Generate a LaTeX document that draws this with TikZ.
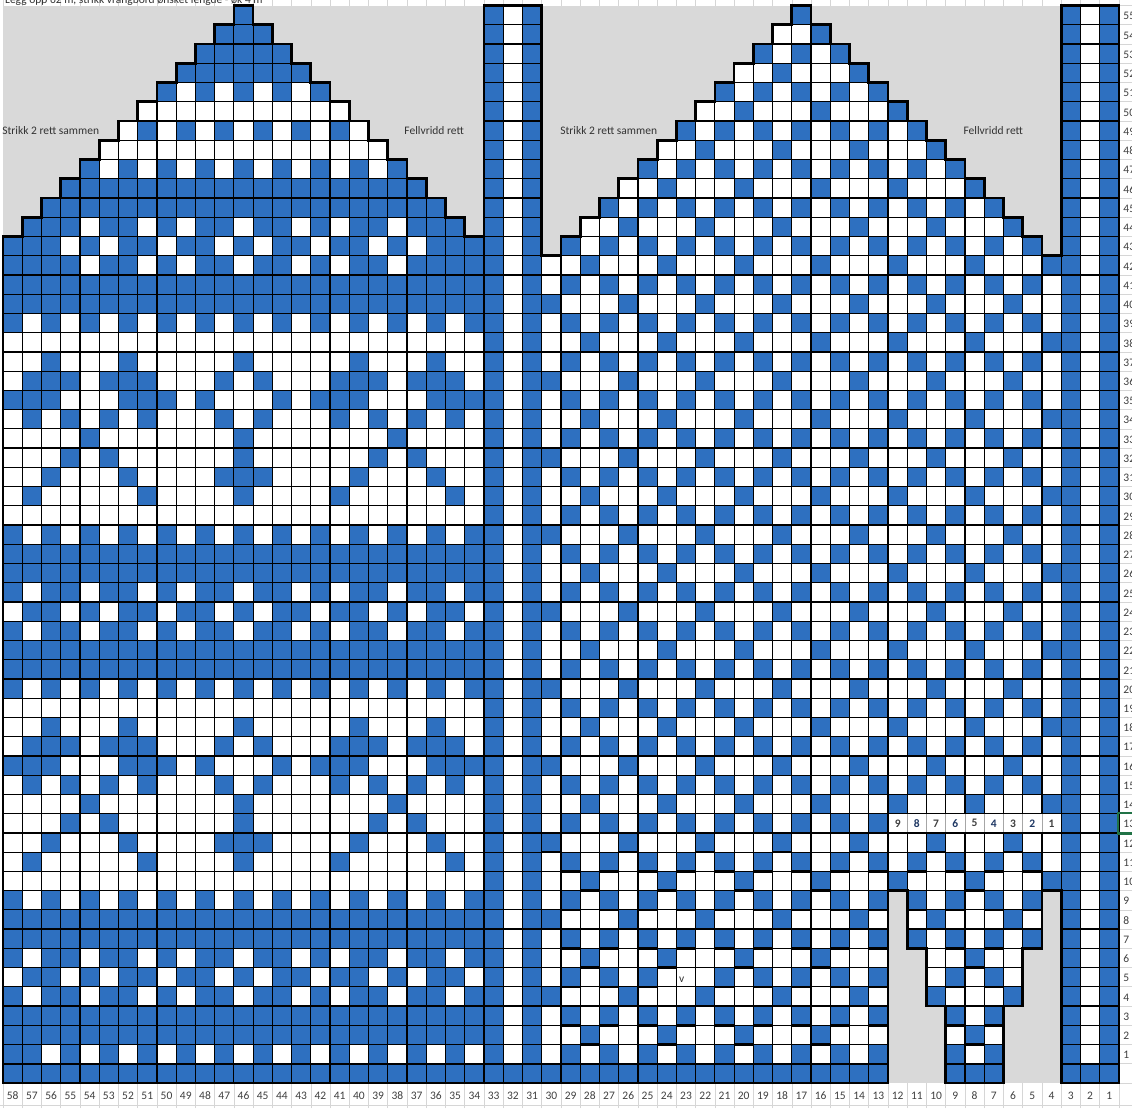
\documentclass[tikz,border=0pt]{standalone}
\usepackage{fontspec}
\setmainfont{Carlito}
\usepackage{xcolor}
\usepackage{tikz}
\usetikzlibrary{calc}
\definecolor{ChartBlue}{RGB}{46,112,192}
\definecolor{ChartGrey}{RGB}{217,217,217}
\definecolor{SheetLine}{RGB}{214,214,214}
\definecolor{ThumbNavy}{RGB}{31,56,100}
\definecolor{SelGreen}{RGB}{33,115,70}

% row patterns of the left part (columns 58 to 34), 1 = blue
\def\pA{1,1,1,1,1,1,1,1,1,1,1,1,1,1,1,1,1,1,1,1,1,1,1,1,1}
\def\pW{0,0,0,0,0,0,0,0,0,0,0,0,0,0,0,0,0,0,0,0,0,0,0,0,0}
\def\pAlt{1,0,1,0,1,0,1,0,1,0,1,0,1,0,1,0,1,0,1,0,1,0,1,0,1}
\def\pOdd{0,1,0,1,0,1,0,1,0,1,0,1,0,1,0,1,0,1,0,1,0,1,0,1,0}
\def\pRone{1,1,0,1,0,1,0,1,0,1,0,1,0,1,0,1,0,1,0,1,0,1,0,1,0}
\def\pDa{1,0,1,1,0,1,1,0,1,0,1,1,0,1,1,0,1,0,1,1,0,1,1,0,1}
\def\pDb{0,1,1,0,1,0,1,1,0,1,1,0,1,0,1,1,0,1,1,0,1,0,1,1,0}
\def\pTa{1,1,1,1,0,1,1,0,1,0,1,1,0,1,1,0,1,0,1,1,0,1,1,1,1}
\def\pTb{1,1,1,0,1,0,1,1,0,1,1,0,1,0,1,1,0,1,1,0,1,0,1,1,1}
\def\pMa{0,1,0,0,0,0,0,1,0,0,0,0,1,0,0,0,0,1,0,0,0,0,0,1,0}
\def\pMb{0,0,1,0,0,0,1,0,0,0,0,1,1,1,0,0,0,0,1,0,0,0,1,0,0}
\def\pMc{0,0,0,1,0,1,0,0,0,0,0,0,1,0,0,0,0,0,0,1,0,1,0,0,0}
\def\pMd{0,0,0,0,1,0,0,0,0,0,0,0,1,0,0,0,0,0,0,0,1,0,0,0,0}
\def\pMe{0,1,0,1,0,1,0,1,0,0,0,1,0,1,0,0,0,1,0,1,0,1,0,1,0}
\def\pMf{1,1,1,0,0,0,1,1,1,0,1,0,0,0,1,0,1,1,1,0,0,0,1,1,1}
\def\pMg{0,1,1,1,0,1,1,1,0,0,0,1,0,1,0,0,0,1,1,1,0,1,1,1,0}
\def\pMh{0,0,1,0,0,0,1,0,0,0,0,0,1,0,0,0,0,0,1,0,0,0,1,0,0}

\begin{document}
\begin{tikzpicture}[x=0.5cm, y=0.5cm]
      \tikzstyle{bcell} = [fill=ChartBlue, draw=black, line width=0.9pt]
      \tikzstyle{wcell} = [fill=white, draw=black, line width=0.9pt]
      \tikzstyle{labcell} = [fill=white, draw=black!35, line width=0.6pt]
      \tikzstyle{heavy} = [draw=black, line width=1.8pt]
      \tikzstyle{edgeline} = [draw=black, line width=2pt, line join=miter]
      \tikzstyle{sheet} = [draw=SheetLine, line width=0.5pt]
      \tikzstyle{note} = [font=\fontsize{8.5}{10}\selectfont, text=black!80, inner sep=0pt]
      \tikzstyle{axislab} = [font=\fontsize{8.5}{10}\selectfont, text=black!75, inner sep=0pt]
      \tikzstyle{thumblab} = [font=\fontsize{8.5}{10}\selectfont\bfseries, inner sep=0pt]

      \useasboundingbox (-0.156,-1.30) rectangle (58.68,56.29);

      % Sheet background
      \fill[white] (-0.156,-1.30) rectangle (58.68,56.29);
      \foreach \i in {0,...,58} \draw[sheet] (\i,-1.30) -- (\i,56.29);
      \foreach \r in {0,...,56} \draw[sheet] (58,\r) -- (58.68,\r);
      \draw[sheet] (-0.156,-1.14) -- (58.68,-1.14);
      \fill[ChartGrey] (0,0) rectangle (58,56);

      % Left part
      \foreach \r/\p in {0/A,1/Rone,2/A,3/A,4/Da,5/Db,6/Da,7/A,8/A,9/Alt,10/W,
          11/Ma,12/Mb,13/Mc,14/Md,15/Me,16/Mf,17/Mg,18/Mh,19/W,20/Alt,21/A,22/A,
          23/Da,24/Db,25/Da,26/A,27/A,28/Alt,29/W,30/Ma,31/Mb,32/Mc,33/Md,34/Me,
          35/Mf,36/Mg,37/Mh,38/W,39/Alt,40/A,41/A,42/Ta,43/Tb,44/Ta,45/A,46/A,
          47/Alt,48/W,49/Odd,50/W,51/Alt,52/A,53/A,54/A,55/A} {
        \edef\plist{\csname p\p\endcsname}
        \pgfmathtruncatemacro\lo{max(0,\r-43)}
        \pgfmathtruncatemacro\hi{min(24,67-\r)}
        \foreach \b [count=\k from 0] in \plist {
          \ifnum\k<\lo\relax\else\ifnum\k>\hi\relax\else
            \ifnum\b=1 \path[bcell] (\k,\r) rectangle ++(1,1);
            \else \path[wcell] (\k,\r) rectangle ++(1,1); \fi
          \fi\fi
        }
      }

      % Right part with thumb
      \foreach \r in {0,...,55} {
        \pgfmathtruncatemacro\lo{max(28,\r-14)}
        \pgfmathtruncatemacro\hi{min(54,96-\r)}
        \foreach \i in {\lo,...,\hi} {
          \pgfmathtruncatemacro\gap{(((\i==46)||(\i==54))&&(\r<10))||(((\i==47)||(\i==53))&&(\r<7))||(((\i==48)||(\i==52))&&(\r<4))}
          \pgfmathtruncatemacro\lab{(\r==13)&&(\i>45)}
          \pgfmathtruncatemacro\c{ifthenelse(\r==0,1,ifthenelse(mod(\r,2)==1,mod(\i,2),ifthenelse(mod(\i-\r+100,4)==0,1,0)))}
          \ifnum\r=5 \ifnum\i=35 \def\c{0}\fi\fi
          \ifnum\gap=0
            \ifnum\lab=1
              \path[labcell] (\i,\r) rectangle ++(1,1);
              \pgfmathtruncatemacro\tn{55-\i}
              \ifodd\tn \def\tc{black!75}\else \def\tc{ThumbNavy}\fi
              \node[thumblab, text=\tc] (t\tn) at (\i+0.5,\r+0.5) {\tn};
            \else
              \ifnum\c=1
                \path[bcell] (\i,\r) rectangle ++(1,1);
                \ifnum\r>0 \ifnum\r<13 \draw[heavy] (\i,\r) -- ++(1,0); \fi\fi
              \else
                \path[wcell] (\i,\r) rectangle ++(1,1);
              \fi
            \fi
          \fi
        }
      }
      \node[note] (vmark) at (35.27,5.35) {v};

      % Stripes
      \foreach \r in {0,...,55} {
        \foreach \i in {25,27,55,57} \path[bcell] (\i,\r) rectangle ++(1,1);
        \ifnum\r=0 \def\mc{bcell}\else \def\mc{wcell}\fi
        \path[\mc] (26,\r) rectangle ++(1,1);
        \path[\mc] (56,\r) rectangle ++(1,1);
      }

      % Heavy rules
      \draw[heavy] (0,1) -- (46,1);
      \draw[heavy] (49,1) -- (52,1);
      \draw[heavy] (55,1) -- (58,1);
      \draw[heavy] (46,13) -- (55,13);
      \draw[wcell, fill=none] (46,13) -- (46,14);

      % Outline
      \draw[edgeline] (0,0) -- (0,44)
        \foreach \k in {1,...,12} { -- (\k,43+\k) -- (\k,44+\k) }
        -- (13,56)
        \foreach \k in {0,...,11} { -- (13+\k,55-\k) -- (14+\k,55-\k) }
        -- (25,56) -- (28,56) -- (28,43)
        \foreach \k in {1,...,13} { -- (28+\k,42+\k) -- (28+\k,43+\k) }
        -- (42,56)
        \foreach \k in {0,...,12} { -- (42+\k,55-\k) -- (43+\k,55-\k) }
        -- (55,56) -- (58,56) -- (58,0) -- (55,0) -- (55,10) -- (54,10) -- (54,7)
        -- (53,7) -- (53,4) -- (52,4) -- (52,0) -- (49,0) -- (49,4) -- (48,4)
        -- (48,7) -- (47,7) -- (47,10) -- (46,10) -- (46,0) -- cycle;

      % Texts
      \node[note, anchor=base west] (head) at (0.1,56.13) {Legg opp 62 m, strikk vrangbord ønsket lengde - øk 4 m};
      \node[note, anchor=west] (sA) at (-0.05,49.5) {Strikk 2 rett sammen};
      \node[note, anchor=east] (fA) at (23.97,49.5) {Fellvridd rett};
      \node[note, anchor=west] (sB) at (28.95,49.5) {Strikk 2 rett sammen};
      \node[note, anchor=east] (fB) at (53.03,49.5) {Fellvridd rett};

      % Column and row numbers
      \foreach \i in {0,...,57} {
        \pgfmathtruncatemacro\n{58-\i}
        \node[axislab] (c\n) at (\i+0.5,-0.68) {\n};
      }
      \foreach \r in {1,...,55} \node[axislab, anchor=west] (r\r) at (58.22,\r+0.45) {\r};
      \draw[SelGreen, line width=1.6pt] (57.97,12.97) rectangle (59.6,14.03);
\end{tikzpicture}
\end{document}
